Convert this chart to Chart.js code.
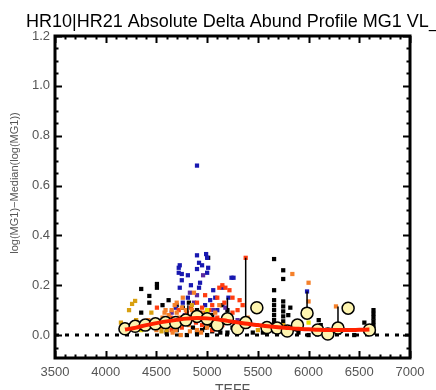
<!DOCTYPE html>
<html>
<head>
<meta charset="utf-8">
<script src="https://cdn.jsdelivr.net/npm/chart.js@4/dist/chart.umd.min.js"></script>
<style>
  html, body { margin: 0; padding: 0; background: #fff; }
  canvas { display: block; }
</style>
</head>
<body>
<canvas id="plot" width="436" height="390"></canvas>
<script>
// tick labels
const xTickValues = [3500, 4000, 4500, 5000, 5500, 6000, 6500, 7000];
const yTickValues = [0.0, 0.2, 0.4, 0.6, 0.8, 1.0, 1.2];

// individual stars, grouped by marker colour  [TEFF, delta]
const blackPts = [
  [4350, 0.185], [4505, 0.205], [4505, 0.19], [4430, 0.157], [4430, 0.13], [4350, 0.09],
  [4310, 0.05], [4250, 0.04], [4150, 0.02], [4700, 0.12], [4760, 0.11], [4820, 0.13],
  [4870, 0.09], [4900, 0.1], [4950, 0.07], [5000, 0.06], [5050, 0.08], [5100, 0.05],
  [5150, 0.12], [5200, 0.1], [5250, 0.03], [5010, 0.31],
  [5660, 0.305], [5660, 0.18], [5660, 0.14], [5660, 0.12], [5660, 0.1], [5660, 0.08],
  [5660, 0.06], [5660, 0.045], [5660, 0.03], [5660, 0.015],
  [5750, 0.26], [5750, 0.225], [5750, 0.135], [5750, 0.115], [5750, 0.095], [5750, 0.075],
  [5750, 0.055], [5750, 0.035], [5750, 0.02], [5820, 0.11], [5800, 0.08],
  [6100, 0.06], [6120, 0.04], [6550, 0.05], [6580, 0.03],
  [6640, 0.1], [6640, 0.085], [6640, 0.07], [6640, 0.055], [6640, 0.04], [6640, 0.025], [6640, 0.01],
  [4600, 0.01], [4700, 0.02], [4800, 0.0], [4900, 0.01], [4950, 0.02], [5000, 0.0],
  [5050, 0.015], [5100, 0.03], [5200, 0.01], [5300, 0.02], [5450, 0.01], [5550, 0.01],
  [5900, 0.01], [6000, 0.0], [6300, 0.01], [6450, 0.0], [4980, 0.03], [5020, 0.04],
  [4860, 0.03], [5130, 0.01], [4560, 0.12], [4620, 0.14]
];
const bluePts = [
  [4900, 0.68], [4900, 0.32], [4990, 0.325], [5000, 0.31], [4730, 0.28], [4720, 0.27],
  [4720, 0.25], [4750, 0.245], [4920, 0.29], [4950, 0.28], [4900, 0.265], [5000, 0.25],
  [5010, 0.27], [4810, 0.24], [4750, 0.22], [4730, 0.19], [4930, 0.21], [4920, 0.19],
  [5240, 0.23], [5260, 0.23], [5150, 0.19], [5210, 0.15], [5080, 0.15], [5030, 0.14],
  [4810, 0.15], [4760, 0.13], [4980, 0.12], [5100, 0.1], [5985, 0.175], [4690, 0.11],
  [4840, 0.2], [5060, 0.18]
];
const purplePts = [
  [4830, 0.17], [4900, 0.16], [4870, 0.13], [4960, 0.24], [5180, 0.11], [4650, 0.09],
  [5300, 0.06], [5060, 0.1], [4780, 0.08], [5140, 0.06]
];
const redPts = [
  [5380, 0.31], [5150, 0.2], [5120, 0.19], [5180, 0.19], [5220, 0.18], [5100, 0.15],
  [4980, 0.16], [4900, 0.13], [4950, 0.11], [5050, 0.12], [5250, 0.15], [5320, 0.14],
  [5300, 0.1], [4505, 0.11], [4800, 0.09], [4870, 0.07], [5000, 0.08], [5100, 0.07],
  [5200, 0.06], [5350, 0.12], [4700, 0.06], [4600, 0.05], [4750, 0.03], [4650, 0.02],
  [4950, 0.04], [5050, 0.02], [5150, 0.04], [5250, 0.09], [4840, 0.11], [4930, 0.09],
  [5020, 0.1], [5170, 0.13], [5270, 0.05], [4890, 0.05], [5080, 0.04], [4720, 0.1],
  [4640, 0.07]
];
const orangePts = [
  [4550, 0.03], [4600, 0.06], [4620, 0.08], [4650, 0.1], [4680, 0.12], [4700, 0.09],
  [4720, 0.07], [4750, 0.11], [4780, 0.05], [4800, 0.08], [4820, 0.04], [4850, 0.1],
  [4880, 0.06], [4900, 0.02], [4560, 0.07], [4590, 0.1], [4640, 0.04], [4700, 0.13],
  [4760, 0.15], [4870, 0.17], [5020, 0.05], [5080, 0.09], [4500, 0.02], [4470, 0.05],
  [4420, 0.06], [5840, 0.245], [6000, 0.21], [6000, 0.135], [6270, 0.115], [5120, 0.12],
  [5400, 0.07], [4660, 0.01], [4740, 0.0], [4830, 0.015], [4610, 0.03], [4670, 0.05],
  [4730, 0.04], [4790, 0.1], [4810, 0.06], [4860, 0.08], [4910, 0.07], [4960, 0.09],
  [4530, 0.05], [4580, 0.09], [4690, 0.02], [4770, 0.07], [4940, 0.01], [5000, 0.03]
];
const goldPts = [
  [4290, 0.137], [4260, 0.125], [4230, 0.1], [4450, 0.09], [4150, 0.05], [4180, 0.03],
  [4300, 0.06], [4400, 0.04], [4600, 0.02], [4850, 0.12], [5100, 0.03], [5500, 0.02],
  [5750, 0.04], [4550, 0.015]
];
const yellowPts = [[6000, 0.05], [5000, 0.1], [4350, 0.02]];

// binned medians (open circles) and their error bars
const binPts = [
  [4190, 0.025], [4290, 0.035], [4390, 0.04], [4490, 0.045], [4590, 0.05], [4690, 0.05],
  [4790, 0.06], [4900, 0.075], [5000, 0.065], [5100, 0.04], [5200, 0.065], [5300, 0.025],
  [5380, 0.05], [5490, 0.11], [5590, 0.03], [5690, 0.028], [5790, 0.016], [5890, 0.04],
  [5985, 0.088], [6090, 0.02], [6190, 0.004], [6290, 0.028], [6390, 0.108], [6600, 0.02]
];
const errX = [5380, 5985, 6290, 5200, 4810];
const errLo = [0.05, 0.088, 0.028, 0.08, 0.08];
const errHi = [0.31, 0.175, 0.115, 0.15, 0.12];

// smooth trend
const fitPts = [
  [4190, 0.022], [4300, 0.03], [4400, 0.04], [4500, 0.048], [4600, 0.055], [4700, 0.061],
  [4800, 0.066], [4900, 0.068], [5000, 0.067], [5100, 0.063], [5200, 0.057], [5300, 0.051],
  [5400, 0.045], [5500, 0.04], [5600, 0.035], [5700, 0.031], [5800, 0.028], [5900, 0.025],
  [6000, 0.023], [6100, 0.021], [6200, 0.02], [6300, 0.02], [6400, 0.02], [6500, 0.021],
  [6600, 0.022]
];

const toXY = (arr) => arr.map(([x, y]) => ({ x, y }));

const errData = [];
errX.forEach((x, i) => {
  errData.push({ x, y: errLo[i] }, { x, y: errHi[i] }, { x, y: null });
});

function dots(data, color, order) {
  return {
    type: "scatter",
    data: toXY(data),
    pointStyle: "rect",
    pointRadius: 3,
    pointBorderWidth: 0,
    pointBackgroundColor: color,
    order: order,
  };
}

const FONT = "'Liberation Sans', Arial, sans-serif";

// frame, inward ticks and free text
const framePlugin = {
  id: "frame",
  afterDraw(chart) {
    const { ctx, chartArea: a, scales } = chart;
    const xs = scales.x, ys = scales.y;
    ctx.save();
    ctx.strokeStyle = "#000";
    ctx.lineWidth = 2;
    ctx.beginPath();
    for (let v = 3500; v <= 7000; v += 100) {
      const px = Math.round(xs.getPixelForValue(v)) + 0.5;
      const len = v % 500 === 0 ? 7 : 3.5;
      ctx.moveTo(px, a.bottom); ctx.lineTo(px, a.bottom - len);
      ctx.moveTo(px, a.top); ctx.lineTo(px, a.top + len);
    }
    for (let k = -1; k <= 24; k++) {
      const v = k * 0.05;
      const py = Math.round(ys.getPixelForValue(v)) + 0.5;
      if (py < a.top || py > a.bottom) continue;
      const len = k % 4 === 0 ? 7 : 3.5;
      ctx.moveTo(a.left, py); ctx.lineTo(a.left + len, py);
      ctx.moveTo(a.right, py); ctx.lineTo(a.right - len, py);
    }
    ctx.stroke();
    ctx.lineWidth = 3;
    ctx.strokeRect(a.left, a.top, a.right - a.left, a.bottom - a.top);

    ctx.fillStyle = "#000";
    ctx.font = "18px " + FONT;
    ctx.textAlign = "left";
    ctx.textBaseline = "alphabetic";
    ctx.fillText("HR10|HR21 Absolute Delta Abund Profile MG1 VL_", 26, 27);

    ctx.fillStyle = "#555";
    ctx.font = "14px " + FONT;
    ctx.textAlign = "center";
    ctx.textBaseline = "middle";
    ctx.fillText("TEFF", (a.left + a.right) / 2, 390);

    ctx.translate(15, 183);
    ctx.rotate(-Math.PI / 2);
    ctx.font = "11px " + FONT;
    ctx.fillText("log(MG1)\u2212Median(log(MG1))", 0, 0);
    ctx.restore();
  },
};

new Chart(document.getElementById("plot"), {
  data: {
    datasets: [
      {
        type: "line",
        data: toXY(fitPts),
        borderColor: "#ff2200",
        borderWidth: 4,
        pointRadius: 0,
        tension: 0.4,
        fill: false,
        order: 0,
      },
      {
        type: "scatter",
        data: toXY(binPts),
        pointStyle: "circle",
        pointRadius: 6,
        pointBorderWidth: 1.5,
        pointBorderColor: "#000",
        pointBackgroundColor: "#fdf4b0",
        order: 1,
      },
      {
        type: "line",
        data: errData,
        borderColor: "#000",
        borderWidth: 1.5,
        pointRadius: 0,
        spanGaps: false,
        fill: false,
        order: 2,
      },
      dots(yellowPts, "#e8e000", 3),
      dots(goldPts, "#d8a010", 4),
      dots(orangePts, "#f5802a", 5),
      dots(redPts, "#ff3c10", 6),
      dots(purplePts, "#5a2aa0", 7),
      dots(bluePts, "#1818b0", 8),
      dots(blackPts, "#000000", 9),
      {
        type: "line",
        data: [{ x: 3500, y: 0 }, { x: 7000, y: 0 }],
        borderColor: "#000",
        borderWidth: 3,
        borderDash: [4, 6],
        pointRadius: 0,
        fill: false,
        order: 10,
      },
    ],
  },
  options: {
    responsive: false,
    animation: false,
    layout: { padding: { top: 36, right: 26, left: 0, bottom: 0 } },
    plugins: {
      legend: { display: false },
      tooltip: { enabled: false },
      title: { display: false },
    },
    scales: {
      x: {
        type: "linear",
        min: 3500,
        max: 7000,
        grid: { display: false, drawTicks: false },
        border: { display: false },
        afterFit: (s) => { s.height = 32; },
        afterBuildTicks: (s) => { s.ticks = xTickValues.map((v) => ({ value: v })); },
        ticks: {
          color: "#555",
          font: { family: FONT, size: 13 },
          padding: 7,
          maxRotation: 0,
          autoSkip: false,
          callback: (v) => String(v),
        },
      },
      y: {
        type: "linear",
        min: -0.092,
        max: 1.2,
        grid: { display: false, drawTicks: false },
        border: { display: false },
        afterFit: (s) => { s.width = 55; },
        afterBuildTicks: (s) => { s.ticks = yTickValues.map((v) => ({ value: v })); },
        ticks: {
          color: "#555",
          font: { family: FONT, size: 13 },
          padding: 5,
          autoSkip: false,
          callback: (v) => Number(v).toFixed(1),
        },
      },
    },
  },
  plugins: [framePlugin],
});
</script>
</body>
</html>
